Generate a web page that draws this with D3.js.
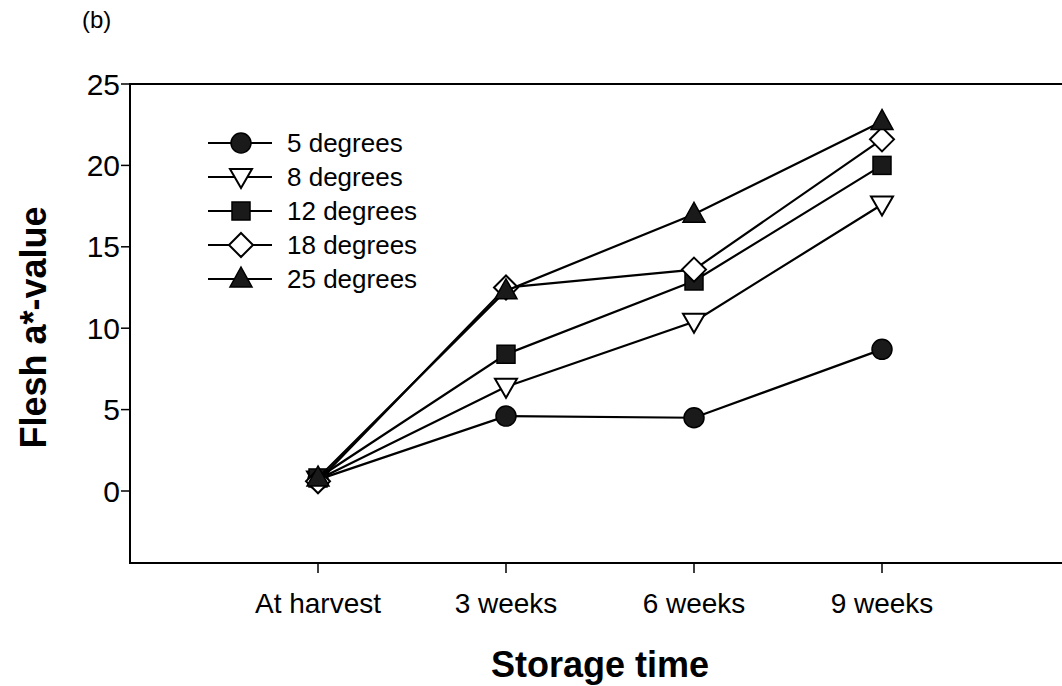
<!DOCTYPE html>
<html>
<head>
<meta charset="utf-8">
<script src="https://cdn.jsdelivr.net/npm/d3@7"></script>
<style>
  body { margin: 0; background: #fff; }
  svg { display: block; font-family: "Liberation Sans", Arial, sans-serif; }
</style>
</head>
<body>
<svg id="chart" width="1062" height="686"></svg>
<script>
// storage time categories
const categories = ["At harvest", "3 weeks", "6 weeks", "9 weeks"];

// flesh a*-value per storage temperature
const deg5  = [0.7, 4.6, 4.5, 8.7];
const deg8  = [0.7, 6.4, 10.4, 17.6];
const deg12 = [0.8, 8.4, 12.9, 20.0];
const deg18 = [0.6, 12.5, 13.6, 21.6];
const deg25 = [0.8, 12.3, 17.0, 22.7];

const seriesNames = ["5 degrees", "8 degrees", "12 degrees", "18 degrees", "25 degrees"];
const yTicks = [0, 5, 10, 15, 20, 25];

const series = [
    { name: seriesNames[0], values: deg5,  symbol: "circle" },
    { name: seriesNames[1], values: deg8,  symbol: "triDown" },
    { name: seriesNames[2], values: deg12, symbol: "square" },
    { name: seriesNames[3], values: deg18, symbol: "diamond" },
    { name: seriesNames[4], values: deg25, symbol: "triUp" }
];

const svg = d3.select("#chart");

const plotLeft = 130, plotTop = 84, plotRight = 1070, plotBottom = 563;

// x: category index, one slot each side of the data
const x = d3.scaleLinear().domain([-1, categories.length]).range([plotLeft, plotRight]);
const y = d3.scaleLinear().domain([0, 25]).range([491, plotTop]);

// frame (right edge runs off the page)
svg.append("path")
    .attr("d", `M${plotRight},${plotTop}H${plotLeft}V${plotBottom}H${plotRight}`)
    .attr("fill", "none")
    .attr("stroke", "#000")
    .attr("stroke-width", 2);

// y axis ticks + labels
const yAxis = svg.append("g");
yAxis.selectAll("line")
    .data(yTicks)
    .enter()
    .append("line")
    .attr("x1", plotLeft - 9).attr("x2", plotLeft)
    .attr("y1", d => y(d)).attr("y2", d => y(d))
    .attr("stroke", "#000").attr("stroke-width", 1.5);
yAxis.selectAll("text")
    .data(yTicks)
    .enter()
    .append("text")
    .attr("x", plotLeft - 10)
    .attr("y", d => y(d))
    .attr("dy", "0.35em")
    .attr("text-anchor", "end")
    .attr("font-size", 30)
    .text(d => d);

// x axis ticks + labels
const xAxis = svg.append("g");
xAxis.selectAll("line")
    .data(categories)
    .enter()
    .append("line")
    .attr("x1", (d, i) => x(i)).attr("x2", (d, i) => x(i))
    .attr("y1", plotBottom).attr("y2", plotBottom + 10)
    .attr("stroke", "#000").attr("stroke-width", 1.5);
xAxis.selectAll("text")
    .data(categories)
    .enter()
    .append("text")
    .attr("x", (d, i) => x(i))
    .attr("y", 613)
    .attr("text-anchor", "middle")
    .attr("font-size", 28)
    .text(d => d);

// axis titles
svg.append("text")
    .attr("x", x(1.5))
    .attr("y", 677)
    .attr("text-anchor", "middle")
    .attr("font-size", 36)
    .attr("font-weight", "bold")
    .text("Storage time");

svg.append("text")
    .attr("transform", `translate(46, ${y(12.5) + 40}) rotate(-90)`)
    .attr("text-anchor", "middle")
    .attr("font-size", 36)
    .attr("font-weight", "bold")
    .text("Flesh a*-value");

svg.append("text")
    .attr("x", 82)
    .attr("y", 28)
    .attr("font-size", 24)
    .text("(b)");

// marker drawing
const drawMarker = (g, sym, cx, cy) => {
    if (sym === "circle") {
        g.append("circle").attr("cx", cx).attr("cy", cy).attr("r", 10)
            .attr("fill", "#1a1a1a").attr("stroke", "#000").attr("stroke-width", 1.5);
    } else if (sym === "square") {
        g.append("rect").attr("x", cx - 9).attr("y", cy - 9).attr("width", 18).attr("height", 18)
            .attr("fill", "#1a1a1a").attr("stroke", "#000").attr("stroke-width", 1.5);
    } else if (sym === "triDown") {
        g.append("path").attr("d", `M${cx - 11},${cy - 8}L${cx + 11},${cy - 8}L${cx},${cy + 11}Z`)
            .attr("fill", "#fff").attr("stroke", "#000").attr("stroke-width", 2);
    } else if (sym === "triUp") {
        g.append("path").attr("d", `M${cx},${cy - 12}L${cx + 11},${cy + 8}L${cx - 11},${cy + 8}Z`)
            .attr("fill", "#1a1a1a").attr("stroke", "#000").attr("stroke-width", 1.5);
    } else if (sym === "diamond") {
        g.append("path").attr("d", `M${cx},${cy - 12}L${cx + 12},${cy}L${cx},${cy + 12}L${cx - 12},${cy}Z`)
            .attr("fill", "#fff").attr("stroke", "#000").attr("stroke-width", 2);
    }
};

const line = d3.line()
    .x((d, i) => x(i))
    .y(d => y(d));

// one group per series: line then markers, so later series sit on top
series.forEach(s => {
    const g = svg.append("g");
    g.append("path")
        .attr("d", line(s.values))
        .attr("fill", "none")
        .attr("stroke", "#000")
        .attr("stroke-width", 2.2);
    s.values.forEach((v, i) => drawMarker(g, s.symbol, x(i), y(v)));
});

// legend
const legend = svg.append("g");
series.forEach((s, i) => {
    const ly = 143 + i * 34;
    legend.append("line")
        .attr("x1", 208).attr("x2", 272)
        .attr("y1", ly).attr("y2", ly)
        .attr("stroke", "#000").attr("stroke-width", 2.2);
    drawMarker(legend, s.symbol, 241, ly);
    legend.append("text")
        .attr("x", 287)
        .attr("y", ly)
        .attr("dy", "0.35em")
        .attr("font-size", 26)
        .text(s.name);
});
</script>
</body>
</html>
